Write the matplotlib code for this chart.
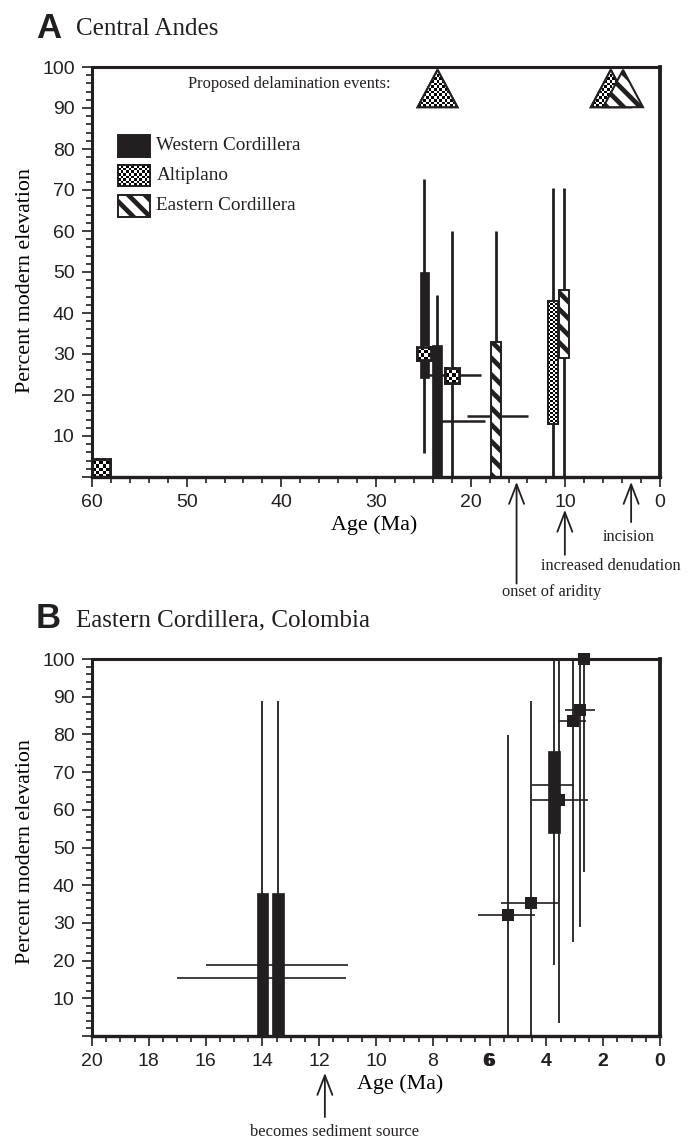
import numpy as np
import matplotlib
matplotlib.use('Agg')
import matplotlib.pyplot as plt
from matplotlib.patches import Polygon, Rectangle

INK = '#231f20'
W, H = 695, 1141
SERIF = 'Liberation Serif'
SANS = 'Liberation Sans'

plt.rcParams['hatch.linewidth'] = 3.4
plt.rcParams['hatch.color'] = INK
plt.rcParams['font.family'] = SANS
plt.rcParams['text.color'] = INK

# panel A: age, whisker low/high, box low/high, box half width in Ma
west_age = [24.9, 23.55]
west_whisker = [(5.9, 72.7), (0, 44.4)]
west_box = [(24.1, 50), (0, 32.2)]

alti_age = [59.05, 24.9, 22.0, 11.3]
alti_whisker = [(0, 4.5), (28.5, 31.7), (0, 60), (0, 70.5)]
alti_box = [(0, 4.5), (28.5, 31.7), (22.9, 26.6), (13, 43)]
alti_width = [0.95, 0.75, 0.75, 0.5]
alti_cell = [3, 3, 3, 2]

east_age = [17.3, 10.15]
east_whisker = [(0, 60), (0, 70.5)]
east_box = [(0, 33), (29, 45.5)]

# age error bars: y, age from, age to
a_err_y = [24.9, 13.7, 15]
a_err_from = [25.0, 23.5, 20.4]
a_err_to = [18.9, 18.5, 13.9]

# delamination triangles: apex age
delam_alti = [23.5, 5.2]
delam_east = [3.9]

# arrows: label, age, tail (percent below axis)
a_arrows = ['onset of aridity', 'increased denudation', 'incision']
a_arrow_age = [15.15, 10.05, 3.05]
a_arrow_tip = [-1.2, -8.0, -1.2]
a_arrow_tail = [-26, -19, -11]

# panel B
b_box_age = [14.0, 13.45, 3.73]
b_box = [(0, 38), (0, 38), (53.8, 75.6)]
b_box_whisker = [(0, 88.8), (0, 88.8), (18.8, 100)]

b_pt_age = [5.35, 4.54, 3.56, 3.06, 2.82, 2.69]
b_pt_y = [32.2, 35.4, 62.6, 83.6, 86.4, 100]
b_pt_whisker = [(0, 79.8), (0, 88.8), (3.4, 100), (25, 100), (29, 100), (43.5, 100)]

b_err_y = [18.9, 15.4, 32.2, 35.4, 66.6, 62.6, 83.6, 86.4]
b_err_from = [16.0, 17.0, 6.4, 5.6, 4.5, 4.5, 3.6, 3.35]
b_err_to = [11.0, 11.05, 4.4, 3.6, 3.05, 2.55, 2.6, 2.3]

a_xticks = [60, 50, 40, 30, 20, 10, 0]
b_xticks = [20, 18, 16, 14, 12, 10, 8, 6, 4, 2, 0]
yticks = [100, 90, 80, 70, 60, 50, 40, 30, 20, 10]


def checker(ax, patch, x0, x1, y0, y1, cell):
    # checker fill as an image clipped to the patch, cell size in pixels
    p0 = ax.transData.transform((x0, y0))
    p1 = ax.transData.transform((x1, y1))
    nx = max(int(abs(p1[0] - p0[0]) / cell), 1)
    ny = max(int(abs(p1[1] - p0[1]) / cell), 1)
    yy, xx = np.indices((ny, nx))
    img = ax.imshow((xx + yy) % 2, cmap='gray', extent=(x0, x1, y0, y1), origin='lower',
                    interpolation='nearest', aspect='auto', zorder=patch.get_zorder())
    img.set_clip_path(patch)
    img.set_clip_box(None)


def fill_box(ax, left, right, low, high, kind, lw=1.6, cell=2, z=4):
    # kind is one of solid, alti, east
    face = INK if kind == 'solid' else 'white'
    hatch = '\\\\' if kind == 'east' else None
    r = Rectangle((left, low), right - left, high - low, fc=face, ec=INK, lw=lw, hatch=hatch,
                  zorder=z, clip_on=False)
    ax.add_patch(r)
    if kind == 'alti':
        checker(ax, r, left, right, low, high, cell)
        ax.add_patch(Rectangle((left, low), right - left, high - low, fc='none', ec=INK, lw=lw,
                               zorder=z + 0.1, clip_on=False))


def triangle(ax, apex, kind, z):
    half, low, high = 2.1, 90.2, 99.3
    pts = [(apex - half, low), (apex, high), (apex + half, low)]
    hatch = '\\\\' if kind == 'east' else None
    t = Polygon(pts, closed=True, fc='white', ec=INK, lw=1.5, hatch=hatch, zorder=z, clip_on=False)
    ax.add_patch(t)
    if kind == 'alti':
        checker(ax, t, apex - half, apex + half, low, high, 2.5)
        ax.add_patch(Polygon(pts, closed=True, fc='none', ec=INK, lw=1.5, zorder=z + 0.1, clip_on=False))


def format_axes(ax, xlim, xticks, xminor, ylab_pos, xlab_pos):
    ax.set_xlim(*xlim)
    ax.set_ylim(0, 100)
    ax.set_xticks(xticks)
    ax.set_xticks(xminor, minor=True)
    ax.set_yticks(yticks + [0])
    ax.set_yticklabels([str(v) for v in yticks] + [''])
    ax.set_yticks(np.arange(0, 101, 2), minor=True)
    ax.tick_params(which='major', length=7.5, width=1.2, labelsize=14, color=INK, labelcolor=INK, pad=5)
    ax.tick_params(which='minor', length=4, width=1.2, color=INK)
    ax.tick_params(axis='x', which='major', pad=5)
    ax.spines['right'].set_linewidth(2.8)
    ax.spines['left'].set_linewidth(2.2)
    ax.spines['bottom'].set_linewidth(2.4)
    ax.spines['top'].set_linewidth(2.2)
    for s in ax.spines.values():
        s.set_color(INK)
        s.set_zorder(6)
    ax.set_xlabel('Age (Ma)', family=SERIF, fontsize=15.8)
    ax.set_ylabel('Percent modern elevation', family=SERIF, fontsize=15.8)
    ax.xaxis.set_label_coords(*xlab_pos)
    ax.yaxis.set_label_coords(*ylab_pos)
    ax.xaxis.label.set_va('center')
    ax.yaxis.label.set_va('center')


def arrow(ax, age, tip, tail):
    ax.annotate('', xy=(age, tip), xytext=(age, tail), annotation_clip=False, zorder=5,
                arrowprops=dict(arrowstyle='->,head_length=1.4,head_width=0.54', color=INK, lw=1.3,
                                shrinkA=0, shrinkB=0))


fig = plt.figure(figsize=(W / 100, H / 100), dpi=100)
ax_a = fig.add_axes([92 / W, 1 - 477 / H, 568 / W, 410 / H])
ax_b = fig.add_axes([92 / W, 1 - 1036 / H, 568 / W, 377 / H])

# panel A
ax = ax_a
a_lim = (60, 0)
ax.set_xlim(*a_lim)
ax.set_ylim(0, 100)
w = 0.5
for age, wh, bx in zip(west_age, west_whisker, west_box):
    ax.vlines(age, wh[0], wh[1], color=INK, lw=2.0, zorder=2)
    fill_box(ax, age + w, age - w, bx[0], bx[1], 'solid', lw=0.5)
for age, wh, bx, hw, cell in zip(alti_age, alti_whisker, alti_box, alti_width, alti_cell):
    ax.vlines(age, wh[0], wh[1], color=INK, lw=2.0, zorder=2)
    fill_box(ax, age + hw, age - hw, bx[0], bx[1], 'alti', lw=2.0 if hw > 0.6 else 1.4, cell=cell, z=4.5)
for age, wh, bx in zip(east_age, east_whisker, east_box):
    ax.vlines(age, wh[0], wh[1], color=INK, lw=2.0, zorder=2)
    fill_box(ax, age + w, age - w, bx[0], bx[1], 'east', lw=1.4)
ax.hlines(a_err_y, a_err_from, a_err_to, color=INK, lw=1.8, zorder=3)

for age in delam_alti:
    triangle(ax, age, 'alti', 4)
for age in delam_east:
    triangle(ax, age, 'east', 4.5)

# legend swatches
leg_labels = ['Western Cordillera', 'Altiplano', 'Eastern Cordillera']
leg_kinds = ['solid', 'alti', 'east']
leg_low = [78.0, 71.0, 63.5]
leg_high = [83.5, 76.0, 68.7]
for lab, kind, low, high in zip(leg_labels, leg_kinds, leg_low, leg_high):
    fill_box(ax, 57.25, 53.9, low, high, kind, lw=1.4, cell=2.5)
    ax.text(53.2, (low + high) / 2, lab, family=SERIF, fontsize=13.8, va='center', ha='left')
ax.text(28.5, 95.9, 'Proposed delamination events:', family=SERIF, fontsize=11.9, va='center', ha='right')

format_axes(ax, a_lim, a_xticks, np.arange(0, 61, 2), (-66 / 568, 0.478), (282 / 568, -48 / 410))

for age, tip, tail in zip(a_arrow_age, a_arrow_tip, a_arrow_tail):
    arrow(ax, age, tip, tail)
fig.text(552 / W, 1 - 592 / H, a_arrows[0], family=SERIF, fontsize=11.8, ha='center', va='center')
fig.text(611 / W, 1 - 566 / H, a_arrows[1], family=SERIF, fontsize=11.9, ha='center', va='center')
fig.text(629 / W, 1 - 537 / H, a_arrows[2], family=SERIF, fontsize=11.9, ha='center', va='center')

# panel B
ax = ax_b
b_lim = (20, 0)
ax.set_xlim(*b_lim)
ax.set_ylim(0, 100)
for age, wh, bx in zip(b_box_age, b_box_whisker, b_box):
    ax.vlines(age, wh[0], wh[1], color=INK, lw=1.3, zorder=2, clip_on=False)
    fill_box(ax, age + 0.2, age - 0.2, bx[0], bx[1], 'solid', lw=0.5)
ax.vlines(b_pt_age, [v[0] for v in b_pt_whisker], [v[1] for v in b_pt_whisker], color=INK, lw=1.3, zorder=2)
ax.hlines(b_err_y, b_err_from, b_err_to, color=INK, lw=1.2, zorder=3)
ax.plot(b_pt_age, b_pt_y, ls='none', marker='s', ms=9, mfc=INK, mec=INK, mew=0, zorder=7, clip_on=False)

format_axes(ax, b_lim, b_xticks, np.arange(0, 20.1, 0.5), (-66 / 568, 0.49), (308 / 568, -48 / 377))
for lab in ax.get_xticklabels():
    if int(lab.get_text()) <= 6:
        lab.set_fontweight('bold')
# the 6 is printed twice in the original, slightly offset
ax.annotate('6', xy=(6, 0), xycoords=('data', 'axes fraction'), xytext=(-1.5, -12.5), textcoords='offset points',
            ha='center', va='top', fontsize=14, fontweight='bold', annotation_clip=False)

arrow(ax, 11.8, -9.8, -21.5)
fig.text(335 / W, 1 - 1132 / H, 'becomes sediment source', family=SERIF, fontsize=11.9, ha='center', va='center')

# panel titles
fig.text(36 / W, 1 - 28 / H, 'A', family=SANS, fontweight='bold', fontsize=25, va='center', ha='left')
fig.text(76 / W, 1 - 29 / H, 'Central Andes', family=SERIF, fontsize=18, va='center', ha='left')
fig.text(36 / W, 1 - 618 / H, 'B', family=SANS, fontweight='bold', fontsize=25, va='center', ha='left')
fig.text(76 / W, 1 - 620 / H, 'Eastern Cordillera, Colombia', family=SERIF, fontsize=18, va='center', ha='left')

fig.savefig('out.png', dpi=100, facecolor='white')
